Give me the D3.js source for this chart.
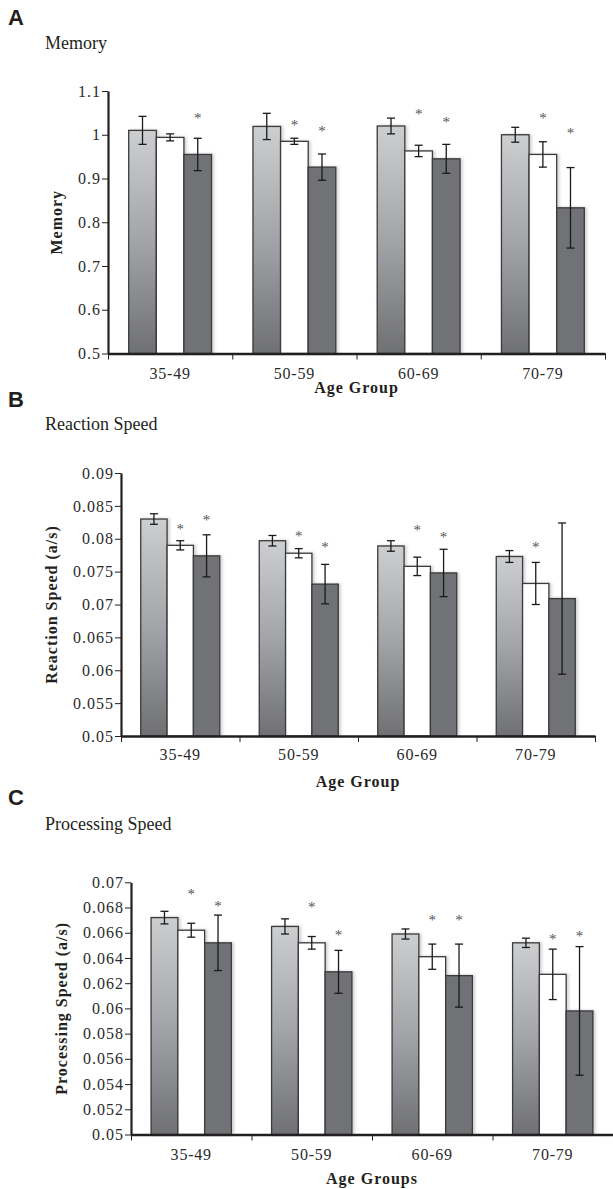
<!DOCTYPE html>
<html>
<head>
<meta charset="utf-8">
<script src="https://cdn.jsdelivr.net/npm/d3@7"></script>
<style>
  body { margin: 0; background: #fff; }
  svg { display: block; }
</style>
</head>
<body>
<div id="chart"></div>
<script>
// categories + series (light gradient, white, dark)
const ageGroups = ["35-49", "50-59", "60-69", "70-79"];

const memoryMean = [[1.01, 0.994, 0.955], [1.019, 0.985, 0.926], [1.02, 0.963, 0.945], [1.0, 0.955, 0.833]];
const memoryErr = [[0.032, 0.008, 0.037], [0.03, 0.007, 0.03], [0.018, 0.013, 0.033], [0.017, 0.029, 0.092]];
const memoryStar = [[null, null, 1.044], [null, 1.028, 1.014], [null, 1.051, 1.033], [null, 1.043, 1.009]];

const reactionMean = [[0.083, 0.079, 0.0774], [0.0797, 0.0778, 0.0731], [0.0789, 0.0758, 0.0748], [0.0773, 0.0732, 0.0709]];
const reactionErr = [[0.0008, 0.0007, 0.0032], [0.0008, 0.0007, 0.003], [0.0008, 0.0014, 0.0036], [0.0009, 0.0032, 0.0115]];
const reactionStar = [[null, 0.0818, 0.0832], [null, 0.0807, 0.079], [null, 0.0817, 0.0805], [null, 0.0791, null]];

const procMean = [[0.0672, 0.0662, 0.0652], [0.0665, 0.0652, 0.0629], [0.0659, 0.0641, 0.0626], [0.0652, 0.0627, 0.0598]];
const procErr = [[0.0005, 0.00055, 0.0022], [0.0006, 0.0005, 0.0017], [0.0004, 0.001, 0.0025], [0.00037, 0.002, 0.0051]];
const procStar = [[null, 0.06925, 0.06828], [null, 0.0682, 0.06595], [null, 0.06719, 0.06719], [null, 0.06566, 0.06592]];

const width = 613, height = 1189;
const SERIF = "'Liberation Serif', 'Times New Roman', serif";
const AXIS_COLOR = "#231f20";
const BAR_STROKE = "#3a3a3c";

let svg = d3.select("#chart").append("svg")
  .attr("width", width)
  .attr("height", height);

let defs = svg.append("defs");
let grad = defs.append("linearGradient")
  .attr("id", "lightGrad")
  .attr("x1", 0).attr("y1", 0).attr("x2", 0).attr("y2", 1);
grad.append("stop").attr("offset", "0%").attr("stop-color", "#cdced0");
grad.append("stop").attr("offset", "50%").attr("stop-color", "#a3a4a7");
grad.append("stop").attr("offset", "100%").attr("stop-color", "#6f7073");

let shadow = defs.append("filter").attr("id", "shade")
  .attr("x", "-20%").attr("y", "-5%").attr("width", "150%").attr("height", "110%");
shadow.append("feDropShadow")
  .attr("dx", 2).attr("dy", 0).attr("stdDeviation", 1.5)
  .attr("flood-color", "#000").attr("flood-opacity", 0.18);

const fills = ["url(#lightGrad)", "#ffffff", "#717275"];

function drawPanel(p) {
  let g = svg.append("g");

  // panel letter + title
  g.append("text")
    .attr("x", 8).attr("y", p.letterY)
    .attr("font-family", "'Liberation Sans', Arial, sans-serif")
    .attr("font-weight", "bold").attr("font-size", "22px")
    .attr("fill", "#231f20")
    .text(p.letter);
  g.append("text")
    .attr("x", 45).attr("y", p.titleY)
    .attr("font-family", SERIF)
    .attr("font-size", "18px").attr("fill", "#231f20")
    .text(p.title);

  let x0 = d3.scaleBand().domain(ageGroups).range([p.left, p.right]);
  let x1 = d3.scaleBand().domain([0, 1, 2]).range([0, x0.bandwidth()]).paddingOuter(0.75);
  let y = d3.scaleLinear().domain(p.domain).range([p.bottom, p.top]);

  let rows = [];
  ageGroups.forEach(function (grp, i) {
    p.mean[i].forEach(function (v, j) {
      rows.push({ grp: grp, s: j, v: v, e: p.err[i][j], star: p.star[i][j] });
    });
  });

  // bars
  g.append("g").selectAll("rect")
    .data(rows)
    .join("rect")
    .attr("x", d => x0(d.grp) + x1(d.s))
    .attr("y", d => y(d.v))
    .attr("width", x1.bandwidth())
    .attr("height", d => y(p.domain[0]) - y(d.v))
    .attr("fill", d => fills[d.s])
    .attr("stroke", BAR_STROKE)
    .attr("stroke-width", 1.3)
    .attr("filter", "url(#shade)");

  // error bars
  let eb = g.append("g").attr("stroke", "#1a1a1a").attr("stroke-width", 1.3);
  let cx = d => x0(d.grp) + x1(d.s) + x1.bandwidth() / 2;
  eb.selectAll("line.v").data(rows).join("line").attr("class", "v")
    .attr("x1", cx).attr("x2", cx)
    .attr("y1", d => y(d.v + d.e)).attr("y2", d => y(d.v - d.e));
  eb.selectAll("line.t").data(rows).join("line").attr("class", "t")
    .attr("x1", d => cx(d) - 4).attr("x2", d => cx(d) + 4)
    .attr("y1", d => y(d.v + d.e)).attr("y2", d => y(d.v + d.e));
  eb.selectAll("line.b").data(rows).join("line").attr("class", "b")
    .attr("x1", d => cx(d) - 4).attr("x2", d => cx(d) + 4)
    .attr("y1", d => y(d.v - d.e)).attr("y2", d => y(d.v - d.e));

  // significance stars
  g.append("g").selectAll("text")
    .data(rows.filter(d => d.star != null))
    .join("text")
    .attr("x", cx)
    .attr("y", d => y(d.star) + 7)
    .attr("text-anchor", "middle")
    .attr("font-family", SERIF)
    .attr("font-size", "15px")
    .attr("fill", "#555")
    .text("*");

  // y axis
  let ya = g.append("g")
    .attr("transform", "translate(" + p.left + ",0)")
    .call(d3.axisLeft(y)
      .tickValues(d3.ticks(p.domain[0], p.domain[1], p.nTicks))
      .tickSize(6).tickSizeOuter(0).tickPadding(1)
      .tickFormat(d => String(+d.toPrecision(6))));
  ya.select(".domain").attr("stroke", AXIS_COLOR).attr("stroke-width", 2.2);
  ya.selectAll(".tick line").attr("stroke", AXIS_COLOR).attr("stroke-width", 1);
  ya.selectAll(".tick text")
    .attr("font-family", SERIF).attr("font-size", "16px")
    .attr("letter-spacing", "1px").attr("fill", "#2a2a2a");

  // x axis: boundary ticks + category labels
  let xt = d3.scaleLinear().domain([0, ageGroups.length]).range([p.left, p.right]);
  let xa = g.append("g")
    .attr("transform", "translate(0," + p.bottom + ")")
    .call(d3.axisBottom(xt).ticks(ageGroups.length).tickSize(6).tickSizeOuter(0).tickFormat(""));
  xa.select(".domain").attr("stroke", AXIS_COLOR).attr("stroke-width", 2.4);
  xa.selectAll(".tick line").attr("stroke", AXIS_COLOR).attr("stroke-width", 1);

  let xl = g.append("g")
    .attr("transform", "translate(0," + p.bottom + ")")
    .call(d3.axisBottom(x0).tickSize(0).tickPadding(p.labelPad));
  xl.select(".domain").remove();
  xl.selectAll(".tick text")
    .attr("font-family", SERIF).attr("font-size", "16px")
    .attr("letter-spacing", "0.8px").attr("fill", "#2a2a2a");

  // axis titles
  g.append("text")
    .attr("x", (p.left + p.right) / 2)
    .attr("y", p.xTitleY)
    .attr("text-anchor", "middle")
    .attr("font-family", SERIF).attr("font-weight", "bold").attr("font-size", "16px")
    .attr("letter-spacing", "1px")
    .attr("fill", "#231f20")
    .text(p.xTitle);
  g.append("text")
    .attr("transform", "translate(" + p.yTitleX + "," + (p.top + p.bottom) / 2 + ") rotate(-90)")
    .attr("text-anchor", "middle")
    .attr("font-family", SERIF).attr("font-weight", "bold").attr("font-size", "16px")
    .attr("letter-spacing", "1px")
    .attr("fill", "#231f20")
    .text(p.yTitle);
}

drawPanel({
  letter: "A", letterY: 25, title: "Memory", titleY: 49,
  left: 108, right: 605, top: 91, bottom: 353.5,
  domain: [0.5, 1.1], nTicks: 6,
  mean: memoryMean, err: memoryErr, star: memoryStar,
  labelPad: 14, xTitle: "Age Group", xTitleY: 393,
  yTitle: "Memory", yTitleX: 62
});

drawPanel({
  letter: "B", letterY: 407, title: "Reaction Speed", titleY: 430,
  left: 121, right: 595, top: 473, bottom: 736,
  domain: [0.05, 0.09], nTicks: 8,
  mean: reactionMean, err: reactionErr, star: reactionStar,
  labelPad: 13, xTitle: "Age Group", xTitleY: 787,
  yTitle: "Reaction Speed (a/s)", yTitleX: 57
});

drawPanel({
  letter: "C", letterY: 805, title: "Processing Speed", titleY: 830,
  left: 131, right: 613, top: 882.3, bottom: 1134.5,
  domain: [0.05, 0.07], nTicks: 10,
  mean: procMean, err: procErr, star: procStar,
  labelPad: 14, xTitle: "Age Groups", xTitleY: 1184,
  yTitle: "Processing Speed (a/s)", yTitleX: 67
});
</script>
</body>
</html>
